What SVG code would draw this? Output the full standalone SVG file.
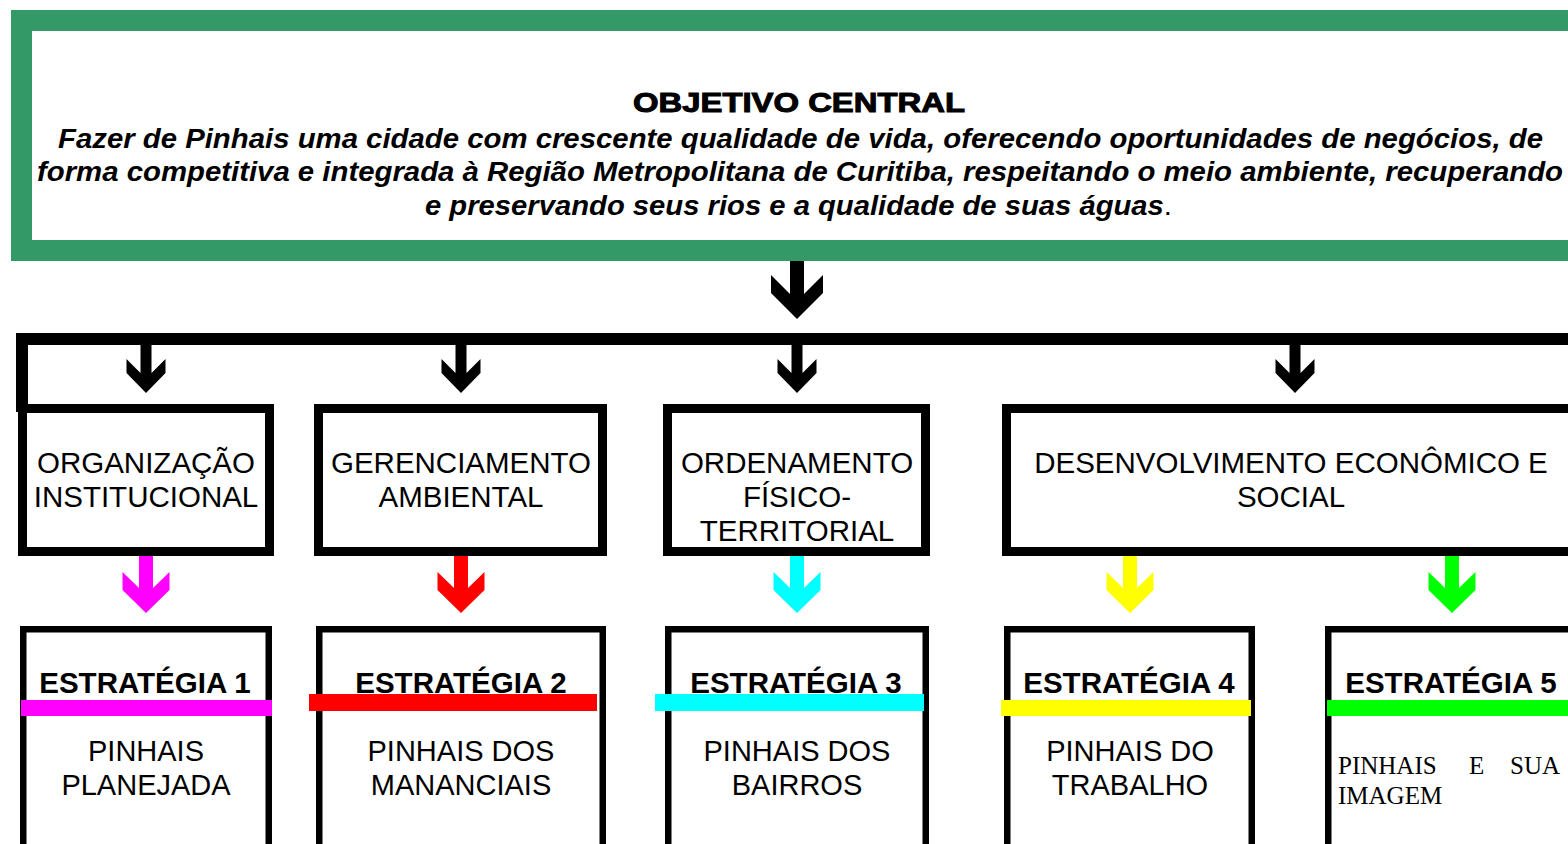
<svg xmlns="http://www.w3.org/2000/svg" width="1568" height="844" viewBox="0 0 1568 844">
<style>
.lbl{font-family:"Liberation Sans",Arial,sans-serif;font-size:29.5px;fill:#000;text-anchor:middle}
.body{font-family:"Liberation Sans",Arial,sans-serif;font-size:29px;fill:#000;text-anchor:middle}
.st{font-family:"Liberation Sans",Arial,sans-serif;font-size:29.5px;font-weight:bold;fill:#000;text-anchor:middle}
.obj{font-family:"Liberation Sans",Arial,sans-serif;font-size:27px;font-weight:bold;font-style:italic;fill:#000}
.serif{font-family:"Liberation Serif","Times New Roman",serif;font-size:25px;fill:#000}
.box2{fill:#fff;stroke:#000;stroke-width:9}
.box3{fill:#fff;stroke:#000;stroke-width:6.5}
</style>
<defs>
<path id="bigArrow" d="M-7,0 H7 V33 L26,14 V32 L0,58 L-26,32 V14 L-7,33 Z"/>
<path id="blkArrow" d="M-5.5,0 H5.5 V29 L19.5,15 V29 L0,49 L-19.5,29 V15 L-5.5,29 Z"/>
<path id="colArrow" d="M-7,0 H7 V32 L23.5,16 V34 L0,57 L-23.5,34 V16 L-7,32 Z"/>
</defs>
<rect width="1568" height="844" fill="#fff"/>

<g id="objetivo">
<rect x="21.5" y="20.5" width="1570" height="230" fill="#fff" stroke="#339966" stroke-width="21"/>
<text x="799" y="112" font-family="'Liberation Sans',Arial,sans-serif" font-size="27" font-weight="bold" text-anchor="middle" stroke="#000" stroke-width="1" textLength="332" lengthAdjust="spacingAndGlyphs">OBJETIVO CENTRAL</text>
<text class="obj" x="58" y="148" textLength="1485" lengthAdjust="spacingAndGlyphs">Fazer de Pinhais uma cidade com crescente qualidade de vida, oferecendo oportunidades de negócios, de</text>
<text class="obj" x="37" y="181" textLength="1526" lengthAdjust="spacingAndGlyphs">forma competitiva e integrada à Região Metropolitana de Curitiba, respeitando o meio ambiente, recuperando</text>
<text class="obj" x="425" y="215" textLength="747" lengthAdjust="spacingAndGlyphs">e preservando seus rios e a qualidade de suas águas<tspan font-style="normal" font-weight="normal">.</tspan></text>
</g>

<g id="connectors">
<use href="#bigArrow" x="797" y="261"/>
<rect x="16" y="333" width="1560" height="12" fill="#000"/>
<rect x="16" y="333" width="12" height="79" fill="#000"/>
<use href="#blkArrow" x="146" y="344"/>
<use href="#blkArrow" x="461" y="344"/>
<use href="#blkArrow" x="797" y="344"/>
<use href="#blkArrow" x="1295" y="344"/>
<use href="#colArrow" x="146" y="556" fill="#ff00ff"/>
<use href="#colArrow" x="461" y="556" fill="#ff0000"/>
<use href="#colArrow" x="797" y="556" fill="#00ffff"/>
<use href="#colArrow" x="1130" y="556" fill="#ffff00"/>
<use href="#colArrow" x="1452" y="556" fill="#00ff00"/>
</g>

<g id="org">
<rect class="box2" x="22.5" y="408.5" width="247" height="143"/>
<text class="lbl" x="146" y="473">ORGANIZAÇÃO</text>
<text class="lbl" x="146" y="507">INSTITUCIONAL</text>
</g>
<g id="ger">
<rect class="box2" x="318.5" y="408.5" width="284" height="143"/>
<text class="lbl" x="461" y="473">GERENCIAMENTO</text>
<text class="lbl" x="461" y="507">AMBIENTAL</text>
</g>
<g id="ord">
<rect class="box2" x="667.5" y="408.5" width="258" height="143"/>
<text class="lbl" x="797" y="473">ORDENAMENTO</text>
<text class="lbl" x="797" y="507">FÍSICO-</text>
<text class="lbl" x="797" y="541">TERRITORIAL</text>
</g>
<g id="des">
<rect class="box2" x="1006.5" y="408.5" width="600" height="143"/>
<text class="lbl" x="1291" y="473">DESENVOLVIMENTO ECONÔMICO E</text>
<text class="lbl" x="1291" y="507">SOCIAL</text>
</g>

<g id="est1">
<rect class="box3" x="23.25" y="629.25" width="245.5" height="300"/>
<text class="st" x="145" y="693">ESTRATÉGIA 1</text>
<rect x="21" y="700" width="251" height="16" fill="#ff00ff"/>
<text class="body" x="146" y="761">PINHAIS</text>
<text class="body" x="146" y="795">PLANEJADA</text>
</g>
<g id="est2">
<rect class="box3" x="319.25" y="629.25" width="283.5" height="300"/>
<text class="st" x="461" y="693">ESTRATÉGIA 2</text>
<rect x="309" y="694" width="288" height="17" fill="#ff0000"/>
<text class="body" x="461" y="761">PINHAIS DOS</text>
<text class="body" x="461" y="795">MANANCIAIS</text>
</g>
<g id="est3">
<rect class="box3" x="668.25" y="629.25" width="257.5" height="300"/>
<text class="st" x="796" y="693">ESTRATÉGIA 3</text>
<rect x="655" y="694" width="269" height="17" fill="#00ffff"/>
<text class="body" x="797" y="761">PINHAIS DOS</text>
<text class="body" x="797" y="795">BAIRROS</text>
</g>
<g id="est4">
<rect class="box3" x="1007.25" y="629.25" width="244.5" height="300"/>
<text class="st" x="1129" y="693">ESTRATÉGIA 4</text>
<rect x="1001" y="700" width="250" height="16" fill="#ffff00"/>
<text class="body" x="1130" y="761">PINHAIS DO</text>
<text class="body" x="1130" y="795">TRABALHO</text>
</g>
<g id="est5">
<rect class="box3" x="1328.25" y="629.25" width="400" height="300"/>
<text class="st" x="1451" y="693">ESTRATÉGIA 5</text>
<rect x="1327" y="700" width="260" height="16" fill="#00ff00"/>
<text class="serif" y="774"><tspan x="1338">PINHAIS</tspan><tspan x="1469">E</tspan><tspan x="1510">SUA</tspan></text>
<text class="serif" x="1338" y="804">IMAGEM</text>
</g>
</svg>
